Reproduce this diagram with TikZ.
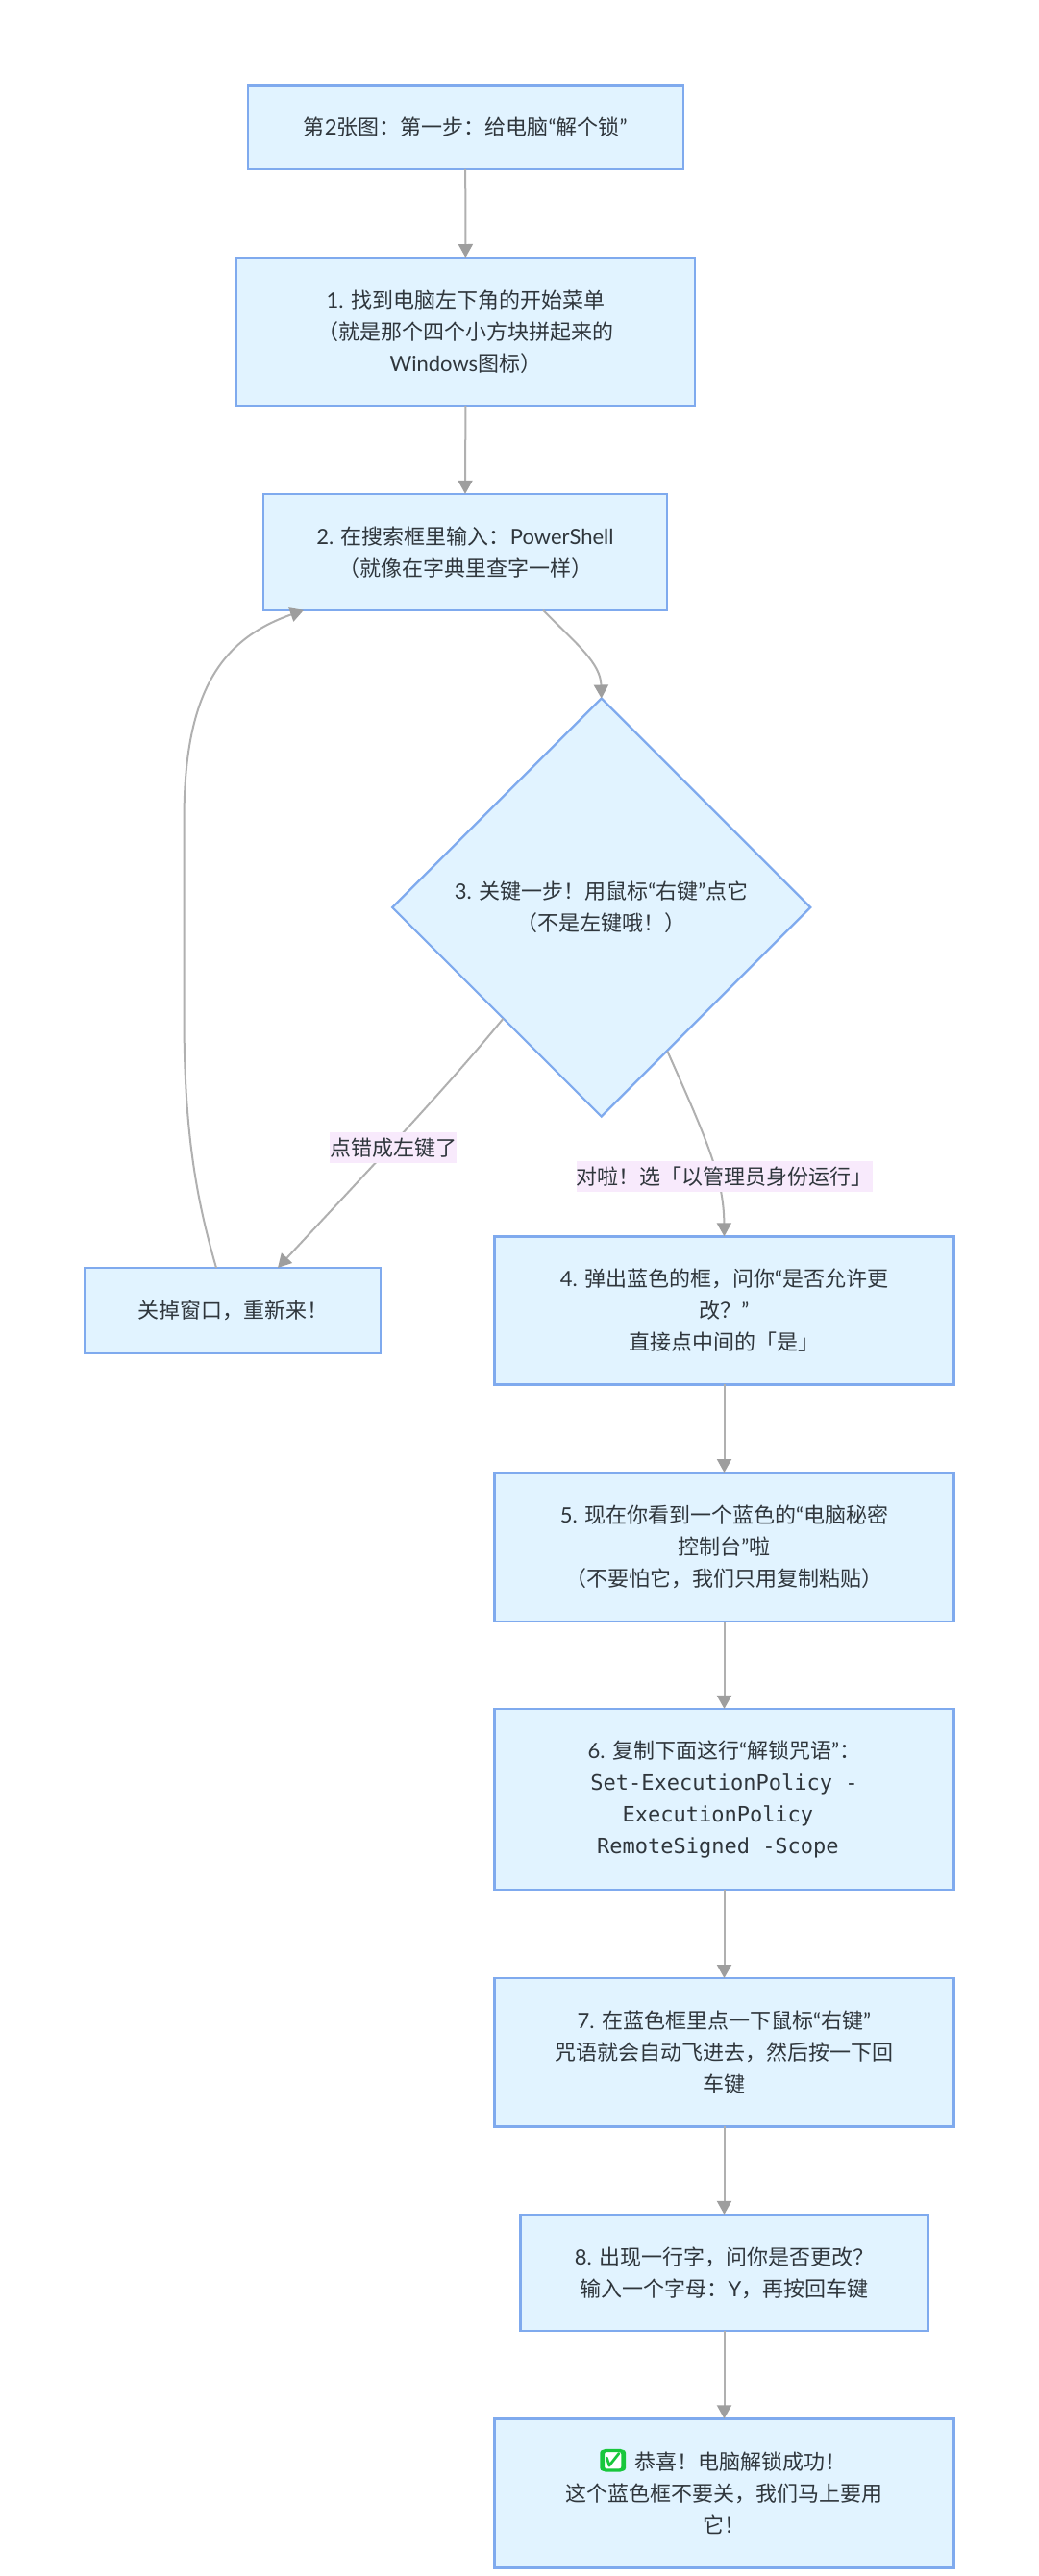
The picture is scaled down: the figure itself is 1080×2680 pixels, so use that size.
\documentclass[tikz,border=0pt]{standalone}
\usepackage{fontspec}
\setmainfont{Noto Sans CJK SC}
\setmonofont{DejaVu Sans Mono}
\newfontfamily\emojifont{Noto Emoji}
\newfontfamily\latinfont{Lato}
\newcommand{\lat}[1]{{\latinfont #1}}
\newcommand{\qo}{{\latinfont “}}
\newcommand{\qc}{{\latinfont ”}}
\usetikzlibrary{arrows.meta,shapes.geometric}
\definecolor{boxfill}{HTML}{E1F3FF}
\definecolor{boxline}{HTML}{7FAAEE}
\definecolor{edgeline}{HTML}{B0B0B0}
\definecolor{edgetip}{HTML}{9E9E9E}
\definecolor{labelfill}{HTML}{F8EAFC}
\definecolor{inktext}{HTML}{2F363C}
\definecolor{okgreen}{HTML}{18C73C}
\tikzset{
  x=1pt,y=-1pt,
  base/.style={font=\fontsize{22pt}{33pt}\selectfont,text=inktext,align=center,inner sep=0pt,outer sep=0pt},
  stepbox/.style={base,draw=boxline,fill=boxfill,line width=2.4pt,rectangle},
  choice/.style={base,draw=boxline,fill=boxfill,line width=2.2pt,diamond,aspect=1,minimum width=435pt,minimum height=435pt},
  edge/.style={draw=edgeline,line width=2pt,-{Triangle[length=14pt,width=15pt,color=edgetip]}},
  edgelabel/.style={base,fill=labelfill,minimum height=32pt},
  okicon/.style={base,fill=okgreen,rounded corners=3pt,minimum width=22pt,minimum height=22pt,text=white,font=\fontsize{21pt}{21pt}\selectfont\emojifont},
  okring/.style={draw=okgreen,rounded corners=3pt,line width=3.4pt,minimum width=20.5pt,minimum height=20.5pt,inner sep=0pt,outer sep=0pt}
}
\begin{document}
\begin{tikzpicture}
\useasboundingbox[fill=white] (0,0) rectangle (1080,2680);

\node[stepbox,minimum width=453pt,minimum height=87.5pt] (start) at (484.2,132.2) {第\lat{2}张图：第一步：给电脑\qo 解个锁\qc};
\node[stepbox,minimum width=477pt,minimum height=154pt] (b1) at (484.4,345) {\lat{1. }找到电脑左下角的开始菜单\\（就是那个四个小方块拼起来的\\\lat{Windows}图标）};
\node[stepbox,minimum width=420pt,minimum height=121pt] (b2) at (484,574.3) {\lat{2. }在搜索框里输入：\lat{PowerShell}\\（就像在字典里查字一样）};
\node[choice] (dia) at (625.7,944) {\lat{3. }关键一步！用鼠标\qo 右键\qc 点它\\（不是左键哦！）};
\node[stepbox,minimum width=308pt,minimum height=88.8pt] (close) at (242,1363.3) {关掉窗口，重新来！};
\node[stepbox,minimum width=478pt,minimum height=154pt] (b4) at (753.5,1363.3) {\lat{4. }弹出蓝色的框，问你\qo 是否允许更\\改？\qc\\直接点中间的「是」};
\node[stepbox,minimum width=478pt,minimum height=154.8pt] (b5) at (753.5,1609.4) {\lat{5. }现在你看到一个蓝色的\qo 电脑秘密\\控制台\qc 啦\\（不要怕它，我们只用复制粘贴）};
\node[stepbox,minimum width=478pt,minimum height=188pt] (b6) at (753.5,1871.9) {\lat{6. }复制下面这行\qo 解锁咒语\qc ：\\\ttfamily Set-ExecutionPolicy -\\\ttfamily ExecutionPolicy\rule{13.2pt}{0pt}\\\ttfamily RemoteSigned -Scope\rule{13.2pt}{0pt}};
\node[stepbox,minimum width=478pt,minimum height=154.4pt] (b7) at (753.5,2135.2) {\lat{7. }在蓝色框里点一下鼠标\qo 右键\qc\\咒语就会自动飞进去，然后按一下回\\车键};
\node[stepbox,minimum width=423.7pt,minimum height=121.3pt] (b8) at (753.5,2364.5) {\lat{8. }出现一行字，问你是否更改？\\输入一个字母：\lat{Y}，再按回车键};
\node[stepbox,minimum width=478pt,minimum height=155pt] (b9) at (753.5,2593.8) {\rule{34.5pt}{0pt}恭喜！电脑解锁成功！\\这个蓝色框不要关，我们马上要用\\它！};
\node[okicon] (ok) at (637.7,2559.7) {✅};
\node[okring] (okedge) at (ok.center) {};

\draw[edge] (start.south) -- (b1.north);
\draw[edge] (b1.south) -- (b2.north);
\draw[edge] ([xshift=81pt]b2.south) .. controls (600,670) and (625,690) .. (dia.north);
\draw[edge] ([xshift=6.5pt,yshift=-7pt]dia.south west) .. controls (470,1125) and (400,1200) .. ([xshift=47pt]close.north);
\draw[edge] ([xshift=-40pt,yshift=-41pt]dia.south east) .. controls (735,1185) and (753,1225) .. (b4.north);
\draw[edge] ([xshift=-17pt]close.north) .. controls (205,1250) and (191.5,1180) .. (191.5,1057) -- (191.5,853) .. controls (191.5,720) and (230,665) .. ([xshift=-168pt]b2.south);
\draw[edge] (b4.south) -- (b5.north);
\draw[edge] (b5.south) -- (b6.north);
\draw[edge] (b6.south) -- (b7.north);
\draw[edge] (b7.south) -- (b8.north);
\draw[edge] (b8.south) -- (b9.north);

\node[edgelabel] (wrong) at (409,1193.9) {点错成左键了};
\node[edgelabel] (right) at (753.5,1223.7) {对啦！选「以管理员身份运行」};
\end{tikzpicture}
\end{document}
